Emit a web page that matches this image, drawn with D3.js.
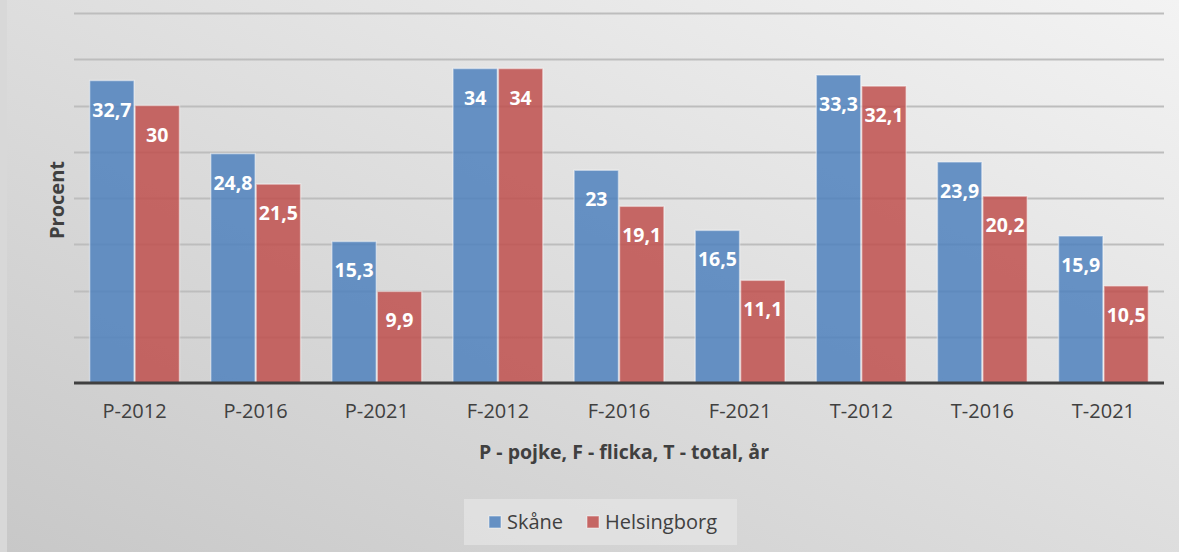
<!DOCTYPE html>
<html>
<head>
<meta charset="utf-8">
<script src="https://d3js.org/d3.v7.min.js"></script>
<style>
  body { margin: 0; background: #d6d6d6; }
  svg { display: block; }
</style>
</head>
<body>
<svg width="1179" height="552"></svg>
<script>
var categories = ["P-2012", "P-2016", "P-2021", "F-2012", "F-2016", "F-2021", "T-2012", "T-2016", "T-2021"];
var skane = [32.7, 24.8, 15.3, 34, 23, 16.5, 33.3, 23.9, 15.9];
var helsingborg = [30, 21.5, 9.9, 34, 19.1, 11.1, 32.1, 20.2, 10.5];
var seriesNames = ["Skåne", "Helsingborg"];
var seriesColors = ["#4f81bd", "#c0504d"];
var yTicks = [0, 5, 10, 15, 20, 25, 30, 35, 40];

var font = "Open Sans, sans-serif";
var svg = d3.select("svg");

// background gradient
var defs = svg.append("defs");
var grad = defs.append("linearGradient").attr("id", "bg")
  .attr("x1", "100%").attr("y1", "0%").attr("x2", "0%").attr("y2", "100%");
grad.append("stop").attr("offset", "0%").attr("stop-color", "#f3f3f3");
grad.append("stop").attr("offset", "100%").attr("stop-color", "#c8c8c8");
svg.append("rect").attr("width", 1179).attr("height", 552).attr("fill", "#d8d8d8");
svg.append("rect").attr("x", 7).attr("y", 0).attr("width", 1172).attr("height", 552)
  .attr("fill", "url(#bg)");

var plotLeft = 74, plotRight = 1164, plotTop = 13, plotBottom = 383;

var x = d3.scaleBand().domain(categories).range([plotLeft, plotRight]).paddingInner(0.25).paddingOuter(0.125);
var x1 = d3.scaleBand().domain([0, 1]).range([0, x.bandwidth()]);
var y = d3.scaleLinear().domain([0, 40]).range([plotBottom, plotTop]);

// gridlines
svg.append("g").selectAll("line").data(yTicks.slice(1)).join("line")
  .attr("x1", plotLeft).attr("x2", plotRight)
  .attr("y1", d => Math.round(y(d)) + 0.5).attr("y2", d => Math.round(y(d)) + 0.5)
  .attr("stroke", "#bdbdbd").attr("stroke-width", 2);

// bars
var data = categories.map((c, i) => ({ cat: c, vals: [skane[i], helsingborg[i]] }));
var groups = svg.append("g").selectAll("g").data(data).join("g")
  .attr("transform", d => "translate(" + x(d.cat) + ",0)");

groups.selectAll("rect").data(d => d.vals.map((v, s) => ({ v: v, s: s }))).join("rect")
  .attr("x", d => x1(d.s) + 0.5)
  .attr("width", x1.bandwidth() - 1)
  .attr("y", d => y(d.v))
  .attr("height", d => plotBottom - y(d.v))
  .attr("fill", d => seriesColors[d.s])
  .attr("fill-opacity", 0.85)
  .attr("stroke", "#ffffff").attr("stroke-opacity", 0.45).attr("stroke-width", 1.5);

groups.selectAll("text").data(d => d.vals.map((v, s) => ({ v: v, s: s }))).join("text")
  .attr("x", d => x1(d.s) + x1.bandwidth() / 2)
  .attr("y", d => y(d.v) + 36)
  .attr("text-anchor", "middle")
  .attr("font-family", font).attr("font-weight", "bold").attr("font-size", 19.5)
  .attr("fill", "#ffffff")
  .text(d => String(d.v).replace(".", ","));

// x axis
var xAxis = svg.append("g").attr("transform", "translate(0," + plotBottom + ")")
  .call(d3.axisBottom(x).tickSize(0).tickPadding(21));
xAxis.select(".domain").attr("stroke", "#404040").attr("stroke-width", 3)
  .attr("d", "M" + plotLeft + ",0H" + plotRight);
xAxis.selectAll("text").attr("font-family", font).attr("font-size", 20).attr("fill", "#404040");

// axis titles
svg.append("text").attr("x", (plotLeft + plotRight) / 2 + 5).attr("y", 459)
  .attr("text-anchor", "middle").attr("font-family", font).attr("font-weight", "bold")
  .attr("font-size", 19.5).attr("fill", "#404040")
  .text("P - pojke, F - flicka, T - total, år");
svg.append("text").attr("transform", "translate(64,200) rotate(-90)")
  .attr("text-anchor", "middle").attr("font-family", font).attr("font-weight", "bold")
  .attr("font-size", 20).attr("fill", "#404040").text("Procent");

// legend
var lg = svg.append("g");
lg.append("rect").attr("x", 464).attr("y", 499).attr("width", 273).attr("height", 46)
  .attr("fill", "#e6e6e6").attr("fill-opacity", 0.7);
var lx = [489, 587];
seriesNames.forEach(function (n, i) {
  lg.append("rect").attr("x", lx[i]).attr("y", 516).attr("width", 12).attr("height", 12)
    .attr("fill", seriesColors[i]).attr("fill-opacity", 0.85)
    .attr("stroke", "#ffffff").attr("stroke-opacity", 0.5);
  lg.append("text").attr("x", lx[i] + 18).attr("y", 529)
    .attr("font-family", font).attr("font-size", 20).attr("fill", "#404040").text(n);
});
</script>
</body>
</html>
